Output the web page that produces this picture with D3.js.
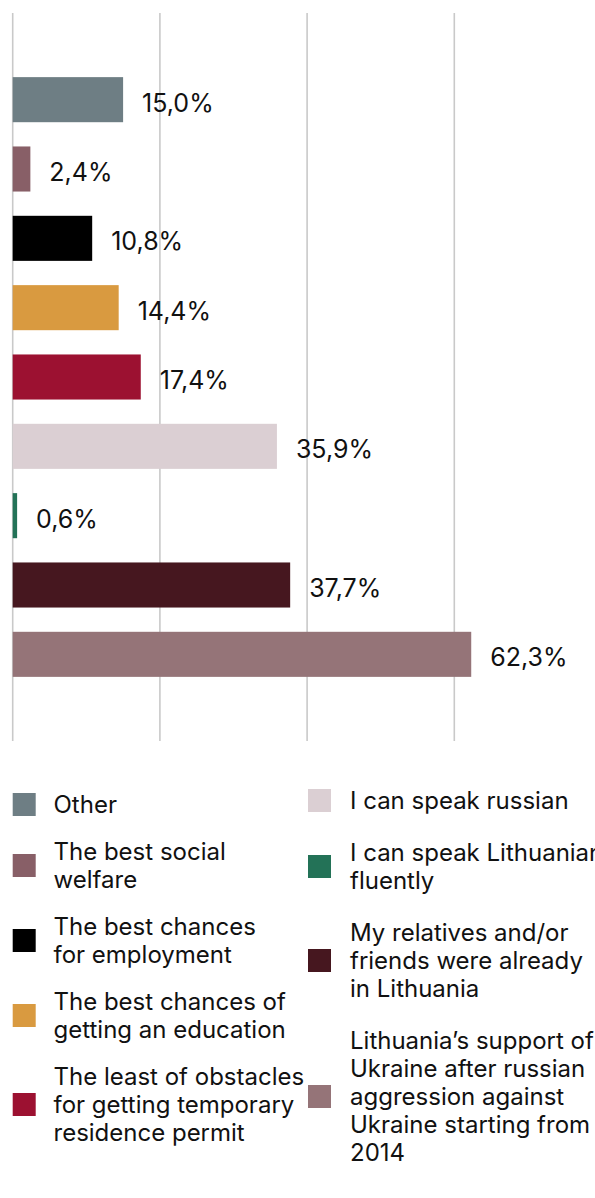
<!DOCTYPE html>
<html>
<head>
<meta charset="utf-8">
<script src="https://cdn.jsdelivr.net/npm/d3@7"></script>
<style>
  html, body { margin: 0; padding: 0; background: #fff; overflow: hidden; }
  svg { display: block; font-family: Inter, "Noto Sans", sans-serif; }
</style>
</head>
<body>
<svg id="chart" width="595" height="1198"></svg>
<script>
// Reasons for choosing Lithuania (share of respondents, %)
const categories = [
  "Other",
  "The best social welfare",
  "The best chances for employment",
  "The best chances of getting an education",
  "The least of obstacles for getting temporary residence permit",
  "I can speak russian",
  "I can speak Lithuanian fluently",
  "My relatives and/or friends were already in Lithuania",
  "Lithuania’s support of Ukraine after russian aggression against Ukraine starting from 2014"
];
const values = [15.0, 2.4, 10.8, 14.4, 17.4, 35.9, 0.6, 37.7, 62.3];
const colors = ["#6e7e84", "#885f67", "#000000", "#d99a40", "#9c1131",
                "#dbcfd3", "#237257", "#46171f", "#957478"];
const gridTicks = [0, 20, 40, 60];

// Legend text, wrapped as in the layout; left column first, then right
const legendLines = [
  ["Other"],
  ["The best social", "welfare"],
  ["The best chances", "for employment"],
  ["The best chances of", "getting an education"],
  ["The least of obstacles", "for getting temporary", "residence permit"],
  ["I can speak russian"],
  ["I can speak Lithuanian", "fluently"],
  ["My relatives and/or", "friends were already", "in Lithuania"],
  ["Lithuania’s support of", "Ukraine after russian", "aggression against", "Ukraine starting from", "2014"]
];

const svg = d3.select("#chart");
const fmt = v => d3.format(".1f")(v).replace(".", ",") + "%";

const x = d3.scaleLinear().domain([0, 80]).range([12.7, 601.5]);
const y = d3.scaleBand()
  .domain(categories)
  .range([13, 741])
  .paddingInner(0.35)
  .paddingOuter(0.925);

// vertical grid lines
svg.append("g")
  .selectAll("line")
  .data(gridTicks)
  .join("line")
  .attr("x1", d => x(d)).attr("x2", d => x(d))
  .attr("y1", 13).attr("y2", 741)
  .attr("stroke", "#c9c9c9")
  .attr("stroke-width", 1.6);

const rows = categories.map((c, i) => ({ c, v: values[i], col: colors[i] }));

// bars
svg.append("g")
  .selectAll("rect")
  .data(rows)
  .join("rect")
  .attr("x", x(0))
  .attr("y", d => y(d.c))
  .attr("width", d => x(d.v) - x(0))
  .attr("height", y.bandwidth())
  .attr("fill", d => d.col);

// value labels
svg.append("g")
  .selectAll("text")
  .data(rows)
  .join("text")
  .attr("x", d => x(d.v) + 19)
  .attr("y", d => y(d.c) + y.bandwidth() / 2 + 12)
  .attr("font-size", 25)
  .attr("fill", "#111")
  .text(d => fmt(d.v));

// legend: two columns, items stacked with a fixed gap
const lineH = 28;
const legendCols = [
  { items: [0, 1, 2, 3, 4], sx: 12.7, tx: 53.5, start: 813, gap: 19 },
  { items: [5, 6, 7, 8], sx: 308, tx: 350, start: 809, gap: 24 }
];
const legend = svg.append("g").attr("font-size", 24).attr("fill", "#111");
legendCols.forEach(col => {
  let base = col.start;
  col.items.forEach(i => {
    const lines = legendLines[i];
    const mid = base - 8.5 + (lines.length - 1) * lineH / 2;
    legend.append("rect")
      .attr("x", col.sx).attr("y", mid - 11.5)
      .attr("width", 23).attr("height", 23)
      .attr("fill", colors[i]);
    const t = legend.append("text").attr("x", col.tx).attr("y", base);
    lines.forEach((ln, k) => {
      t.append("tspan").attr("x", col.tx).attr("y", base + k * lineH).text(ln);
    });
    base += lines.length * lineH + col.gap;
  });
});
</script>
</body>
</html>
